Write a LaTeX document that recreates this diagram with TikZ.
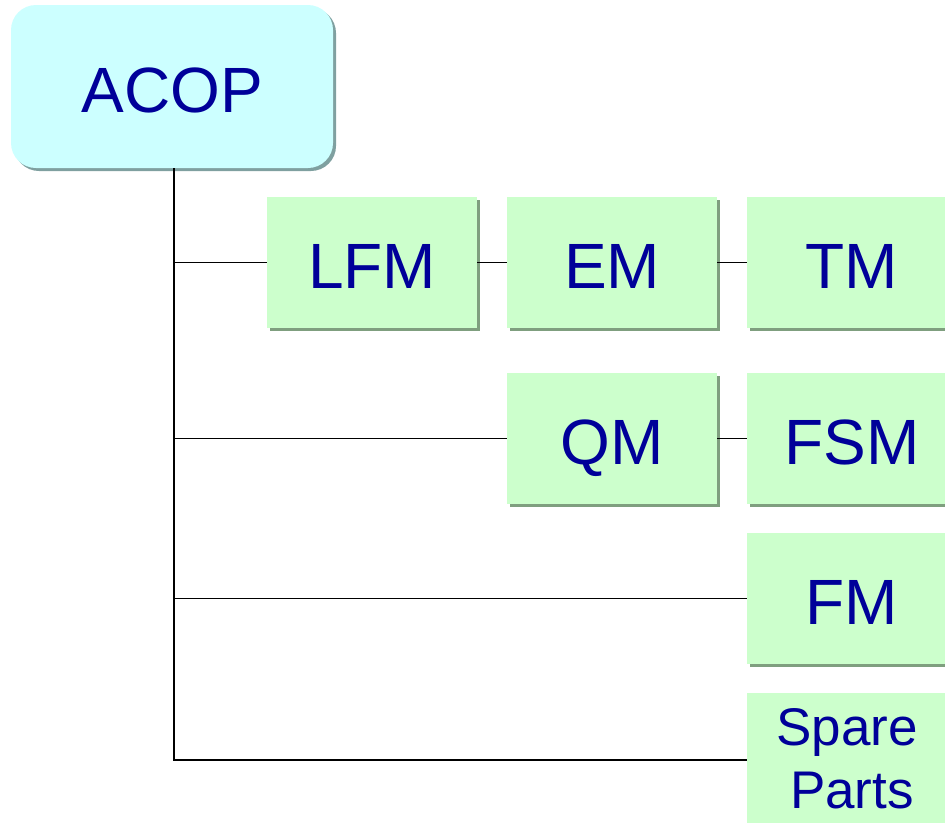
\documentclass[tikz,border=0pt]{standalone}
\usepackage{fontspec}
\setmainfont{Liberation Sans}
\usetikzlibrary{shadows}
\definecolor{txtblue}{HTML}{000099}
\definecolor{cyanfill}{HTML}{CCFFFF}
\definecolor{greenfill}{HTML}{CCFFCC}
\definecolor{gshadow}{HTML}{7F9F7F}
\definecolor{cshadow}{HTML}{7FA0A0}
\tikzset{
  gbox/.style={fill=greenfill, draw=none, minimum width=210pt, minimum height=131pt,
    text=txtblue, font=\fontsize{64}{64}\selectfont, inner sep=0pt, align=center,
    drop shadow={shadow xshift=3pt, shadow yshift=-3pt, fill=gshadow, opacity=1}},
  oneline/.style={text height=51pt, text depth=0pt},
  topbox/.style={fill=cyanfill, draw=none, rounded corners=25pt, minimum width=322pt, minimum height=163pt,
    text=txtblue, font=\fontsize{64}{64}\selectfont, inner sep=0pt, text height=51pt, text depth=0pt,
    drop shadow={shadow xshift=3pt, shadow yshift=-3pt, fill=cshadow, opacity=1}},
  conn/.style={draw=black, line width=1.3pt}
}
\begin{document}
\begin{tikzpicture}
\useasboundingbox (0,0) rectangle (945pt,-822pt);
\clip (0,0) rectangle (945pt,-822pt);
\node[topbox] (acop) at (172pt,-86.5pt) {ACOP};
\node[gbox, oneline] (lfm) at (372pt,-262.5pt) {LFM};
\node[gbox, oneline] (em) at (612pt,-262.5pt) {EM};
\node[gbox, oneline] (tm) at (852pt,-262.5pt) {TM};
\node[gbox, oneline] (qm) at (612pt,-438.5pt) {QM};
\node[gbox, oneline] (fsm) at (852pt,-438.5pt) {FSM};
\node[gbox, oneline] (fm) at (852pt,-598.5pt) {FM};
\node[gbox, font=\fontsize{53}{63}\selectfont] (sp) at (852pt,-758.5pt) {\raisebox{-2pt}{Spare}\hspace*{10pt}\\\raisebox{-2pt}{Parts}};
\coordinate (trunk) at (174pt,-760pt);
\draw[conn] (acop.south -| trunk) -- (trunk) -- (sp.west |- trunk);
\draw[conn] (trunk |- lfm.west) -- (lfm.west);
\draw[conn] (lfm.east) -- (em.west);
\draw[conn] (em.east) -- (tm.west);
\draw[conn] (trunk |- qm.west) -- (qm.west);
\draw[conn] (qm.east) -- (fsm.west);
\draw[conn] (trunk |- fm.west) -- (fm.west);
\end{tikzpicture}
\end{document}
